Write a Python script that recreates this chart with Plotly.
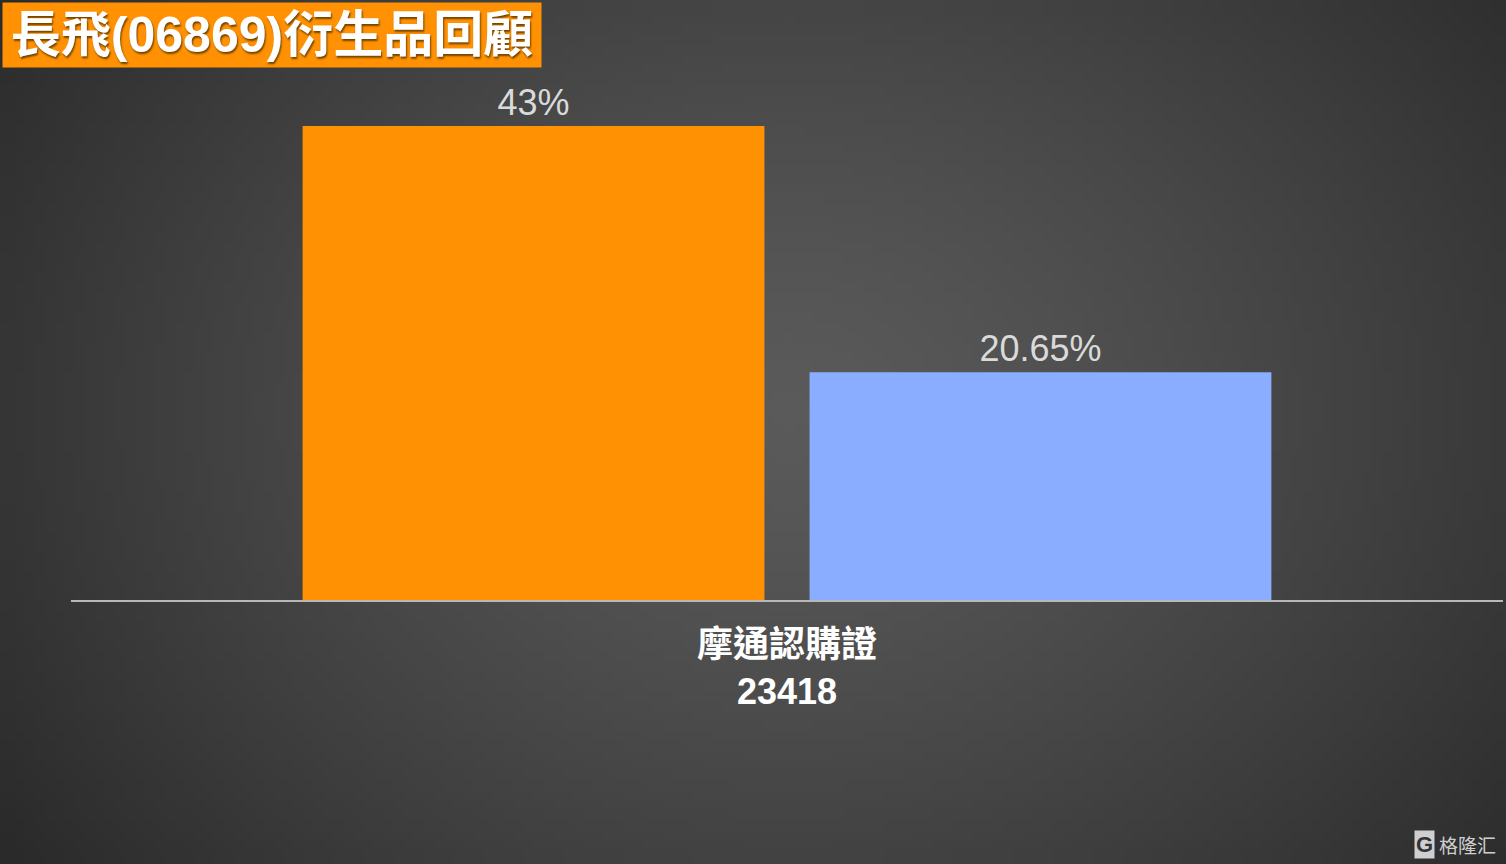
import base64, struct, zlib, math
import plotly.graph_objects as go

# ---- data ----
categories = ["摩通認購證<br>23418"]
series_names = ["長飛", "摩通認購證"]
series_values = [[43.0], [20.65]]
series_labels = [["43%"], ["20.65%"]]
series_colors = ["#FF9102", "#8AADFF"]
title_text = "長飛(06869)衍生品回顧"

W, H = 1506, 864
ML, MR, MT, MB = 71, 3, 70, 264
PW, PH = W - ML - MR, H - MT - MB


# ---- radial gradient background as small PNG ----
def make_png(w, h):
    raw = bytearray()
    cx, cy = w * 0.52, h * 0.47
    rmax = math.hypot(w * 0.55, h * 0.62)
    for j in range(h):
        raw.append(0)
        for i in range(w):
            d = math.hypot(i - cx, (j - cy) * 1.25) / rmax
            v = int(round(90 - 50 * min(d, 1.0) ** 1.3))
            raw += bytes((v, v, v))
    def chunk(t, data):
        c = struct.pack(">I", len(data)) + t + data
        return c + struct.pack(">I", zlib.crc32(t + data) & 0xffffffff)
    png = b"\x89PNG\r\n\x1a\n"
    png += chunk(b"IHDR", struct.pack(">IIBBBBB", w, h, 8, 2, 0, 0, 0))
    png += chunk(b"IDAT", zlib.compress(bytes(raw), 9))
    png += chunk(b"IEND", b"")
    return "data:image/png;base64," + base64.b64encode(png).decode()

bg = make_png(151, 87)

LATIN_CJK = "Liberation Sans, Arial, Noto Sans CJK TC, sans-serif"

fig = go.Figure()
for name, vals, labs, col in zip(series_names, series_values, series_labels, series_colors):
    fig.add_trace(go.Bar(
        x=categories, y=vals, name=name, marker=dict(color=col, line=dict(width=0)),
        text=labs, textposition="outside", cliponaxis=False,
        textfont=dict(family="Liberation Sans, Arial, sans-serif", size=36, color="#DADADA"),
        hoverinfo="skip",
    ))

fig.update_layout(
    width=W, height=H,
    margin=dict(l=ML, r=MR, t=MT, b=MB, pad=0),
    paper_bgcolor="#3c3c3c", plot_bgcolor="rgba(0,0,0,0)",
    barmode="group", bargap=0.292, bargroupgap=0.089,
    showlegend=False,
    images=[dict(source=bg, xref="paper", yref="paper",
                 x=-ML / PW, y=1 + MT / PH, sizex=W / PW, sizey=H / PH,
                 xanchor="left", yanchor="top", sizing="stretch", layer="below")],
    xaxis=dict(showline=True, linecolor="#B8B8B8", linewidth=2, ticks="",
               showgrid=False, zeroline=False, ticklabelstandoff=12,
               tickfont=dict(family=LATIN_CJK, size=36, color="white", weight="bold")),
    yaxis=dict(range=[0, 48.08], visible=False, showgrid=False, zeroline=False),
    annotations=[
        dict(text="<b>" + title_text + "</b>", xref="paper", yref="paper",
             x=-(ML - 2) / PW, y=1 + (MT - 2) / PH, xanchor="left", yanchor="top",
             showarrow=False, bgcolor="#FF9102", borderpad=1, width=536, height=62,
             font=dict(family=LATIN_CJK, size=50, color="white",
                       shadow="1px 2px 2px rgba(0,0,0,0.55)")),
        dict(text="<b>G</b>", xref="paper", yref="paper",
             x=(1424 - ML) / PW, y=-(844 - MT - PH) / PH, xanchor="center", yanchor="middle",
             showarrow=False, bgcolor="#CFCFCF", borderpad=1,
             font=dict(family="Liberation Sans, sans-serif", size=22, color="#333333")),
        dict(text="格隆汇", xref="paper", yref="paper",
             x=(1498 - ML) / PW, y=-(844 - MT - PH) / PH, xanchor="right", yanchor="middle",
             showarrow=False,
             font=dict(family="Noto Sans CJK SC, sans-serif", size=19, color="#CFCFCF")),
    ],
)

fig.write_html("out.html", config={"displayModeBar": False},
               post_script="document.body.style.margin='0';document.body.style.padding='0';")
